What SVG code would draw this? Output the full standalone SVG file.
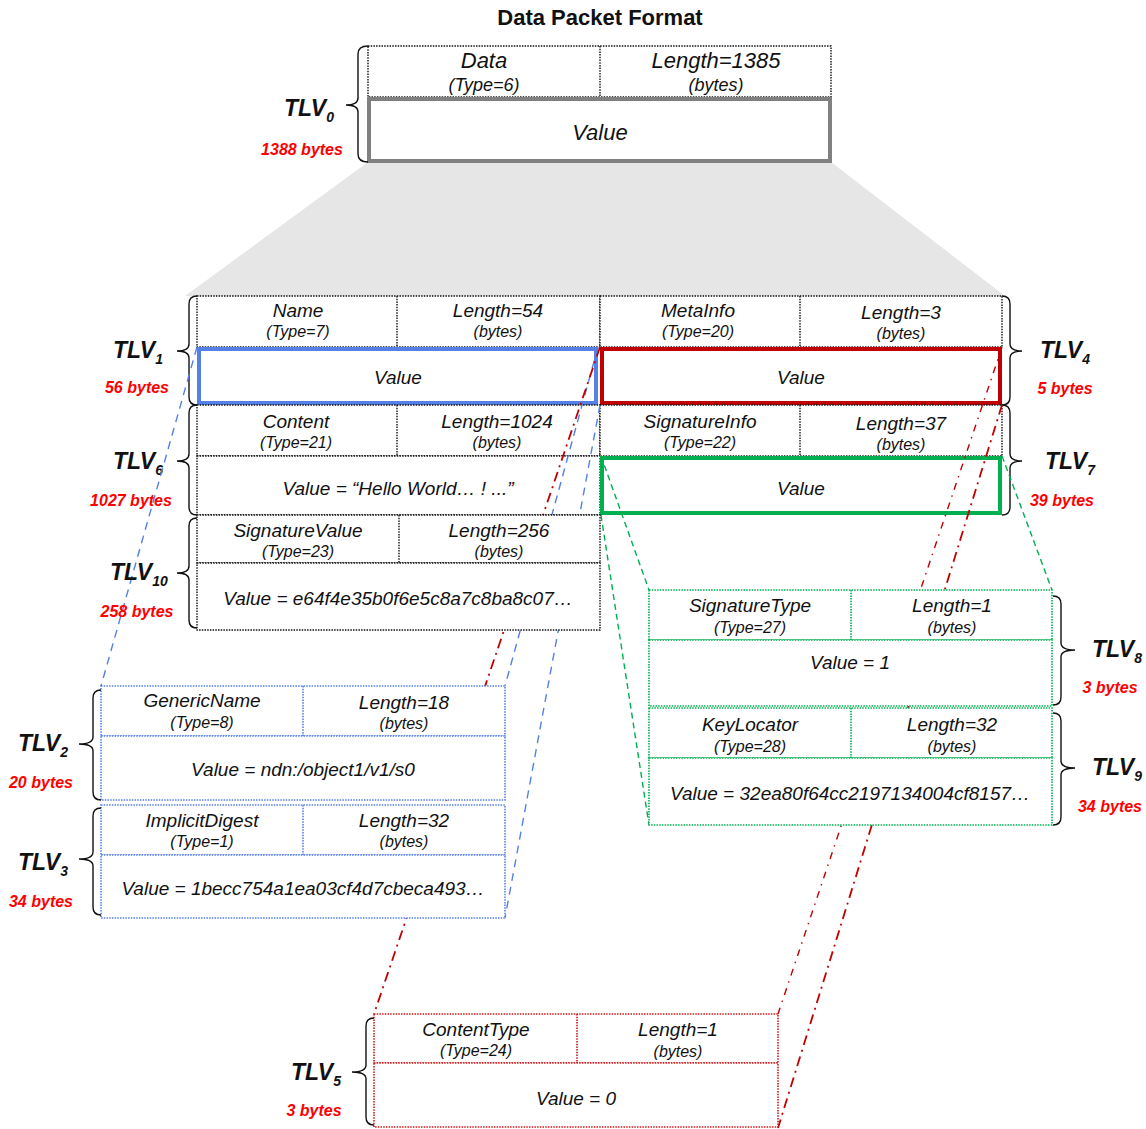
<svg xmlns="http://www.w3.org/2000/svg" width="1146" height="1129" viewBox="0 0 1146 1129">
<style>
  text { font-family: "Liberation Sans", Arial, sans-serif; font-style: italic; fill: #111; }
  .title { font-size: 22px; font-weight: bold; font-style: normal; text-anchor: middle; }
  .h1 { font-size: 19px; text-anchor: middle; }
  .h2 { font-size: 16px; text-anchor: middle; }
  .val { font-size: 19px; text-anchor: middle; }
  .big { font-size: 22px; text-anchor: middle; }
  .big2 { font-size: 18px; text-anchor: middle; }
  .tlv { font-size: 23px; font-weight: bold; }
  .sub { font-size: 14px; }
  .bytes { font-size: 16px; font-weight: bold; fill: #ff0000; text-anchor: middle; }
  .dot { fill: #fff; stroke: #111; stroke-width: 1.4; stroke-dasharray: 1.5 1.2; }
  .dotl { stroke: #111; stroke-width: 1.4; stroke-dasharray: 1.5 1.2; }
  .bdot { fill: #fff; stroke: #5580e6; stroke-width: 1.6; stroke-dasharray: 1.5 1.2; }
  .bdotl { stroke: #5580e6; stroke-width: 1.6; stroke-dasharray: 1.5 1.2; }
  .gdot { fill: #fff; stroke: #00b050; stroke-width: 1.6; stroke-dasharray: 1.5 1.2; }
  .gdotl { stroke: #00b050; stroke-width: 1.6; stroke-dasharray: 1.5 1.2; }
  .rdot { fill: #fff; stroke: #d01818; stroke-width: 1.6; stroke-dasharray: 1.5 1.2; }
  .rdotl { stroke: #d01818; stroke-width: 1.6; stroke-dasharray: 1.5 1.2; }
  .brace { fill: none; stroke: #111; stroke-width: 1.4; }
  .blue { stroke: #5580e6; stroke-width: 1.4; stroke-dasharray: 8 6; fill: none; }
  .green { stroke: #00b050; stroke-width: 1.4; stroke-dasharray: 6 4; fill: none; }
  .red { stroke: #c00000; stroke-width: 1.8; stroke-dasharray: 10 5 2 5; fill: none; }
  .red2 { stroke: #c00000; stroke-width: 1.4; stroke-dasharray: 7 6 1.5 6; fill: none; }
</style>

<text class="title" x="600" y="25">Data Packet Format</text>

<!-- grey projection -->
<polygon points="368,162 831,162 1005,296 185,296" fill="#e6e6e6"/>

<!-- TLV0 -->
<g id="tlv0">
  <rect class="dot" x="368" y="46" width="463" height="51"/>
  <line class="dotl" x1="600" y1="46" x2="600" y2="97"/>
  <text class="big" x="484" y="68">Data</text>
  <text class="big2" x="484" y="91">(Type=6)</text>
  <text class="big" x="716" y="68">Length=1385</text>
  <text class="big2" x="716" y="91">(bytes)</text>
  <rect x="369" y="99" width="461" height="62" fill="#fff" stroke="#808080" stroke-width="4"/>
  <text class="big" x="600" y="140">Value</text>
  <path class="brace" d="M368,46 Q358,46 358,54 V98 Q358,105 346,105 Q358,105 358,112 V154 Q358,162 368,162"/>
  <text class="tlv" x="284" y="116">TLV<tspan class="sub" dy="6">0</tspan></text>
  <text class="bytes" x="302" y="155">1388 bytes</text>
</g>

<!-- TLV1 / TLV4 header row -->
<g id="tlv1">
  <rect class="dot" x="197" y="296" width="403" height="51"/>
  <line class="dotl" x1="397" y1="296" x2="397" y2="347"/>
  <text class="h1" x="298" y="317">Name</text>
  <text class="h2" x="298" y="337">(Type=7)</text>
  <text class="h1" x="498" y="317">Length=54</text>
  <text class="h2" x="498" y="337">(bytes)</text>
  <rect x="199" y="349" width="397" height="54" fill="#fff" stroke="#5580e6" stroke-width="4"/>
  <text class="val" x="398" y="384">Value</text>
  <path class="brace" d="M197,296 Q189,296 189,304 V344 Q189,351 177,351 Q189,351 189,358 V397 Q189,405 197,405"/>
  <text class="tlv" x="113" y="358">TLV<tspan class="sub" dy="6">1</tspan></text>
  <text class="bytes" x="137" y="393">56 bytes</text>
</g>

<g id="tlv4">
  <rect class="dot" x="600" y="296" width="402" height="51"/>
  <line class="dotl" x1="800" y1="296" x2="800" y2="347"/>
  <text class="h1" x="698" y="317">MetaInfo</text>
  <text class="h2" x="698" y="337">(Type=20)</text>
  <text class="h1" x="901" y="319">Length=3</text>
  <text class="h2" x="901" y="339">(bytes)</text>
  <rect x="602" y="349" width="398" height="54" fill="#fff" stroke="#c00000" stroke-width="4"/>
  <text class="val" x="801" y="384">Value</text>
  <path class="brace" d="M1002,296 Q1010,296 1010,304 V344 Q1010,351 1022,351 Q1010,351 1010,358 V397 Q1010,405 1002,405"/>
  <text class="tlv" x="1040" y="358">TLV<tspan class="sub" dy="6">4</tspan></text>
  <text class="bytes" x="1065" y="394">5 bytes</text>
</g>

<g id="tlv6">
  <rect class="dot" x="197" y="405" width="403" height="51"/>
  <line class="dotl" x1="397" y1="405" x2="397" y2="456"/>
  <text class="h1" x="296" y="428">Content</text>
  <text class="h2" x="296" y="448">(Type=21)</text>
  <text class="h1" x="497" y="428">Length=1024</text>
  <text class="h2" x="497" y="448">(bytes)</text>
  <rect class="dot" x="197" y="456" width="403" height="59"/>
  <text class="val" x="398" y="495">Value = “Hello World… ! ...”</text>
  <path class="brace" d="M197,405 Q189,405 189,413 V454 Q189,461 177,461 Q189,461 189,468 V507 Q189,515 197,515"/>
  <text class="tlv" x="113" y="469">TLV<tspan class="sub" dy="6">6</tspan></text>
  <text class="bytes" x="131" y="506">1027 bytes</text>
</g>

<g id="tlv7">
  <rect class="dot" x="600" y="405" width="402" height="51"/>
  <line class="dotl" x1="800" y1="405" x2="800" y2="456"/>
  <text class="h1" x="700" y="428">SignatureInfo</text>
  <text class="h2" x="700" y="448">(Type=22)</text>
  <text class="h1" x="901" y="430">Length=37</text>
  <text class="h2" x="901" y="450">(bytes)</text>
  <rect x="602" y="458" width="398" height="55" fill="#fff" stroke="#00b050" stroke-width="4"/>
  <text class="val" x="801" y="495">Value</text>
  <path class="brace" d="M1002,405 Q1010,405 1010,413 V454 Q1010,461 1022,461 Q1010,461 1010,468 V507 Q1010,515 1002,515"/>
  <text class="tlv" x="1045" y="469">TLV<tspan class="sub" dy="6">7</tspan></text>
  <text class="bytes" x="1062" y="506">39 bytes</text>
</g>

<!-- connectors -->
<g id="connectors">
  <line class="blue" x1="197" y1="347" x2="101" y2="686"/>
  <line class="blue" x1="598" y1="347" x2="505" y2="686"/>
  <line class="blue" x1="600" y1="405" x2="505" y2="918"/>
  <line class="green" x1="601" y1="456" x2="649" y2="590"/>
  <line class="green" x1="1002" y1="456" x2="1052" y2="590"/>
  <line class="green" x1="601" y1="515" x2="649" y2="825"/>
  <line class="red" x1="600" y1="347" x2="374" y2="1014"/>
  <line class="red2" x1="1002" y1="347" x2="778" y2="1014"/>
  <line class="red" x1="1002" y1="405" x2="778" y2="1128"/>
</g>

<g id="tlv10">
  <rect class="dot" x="197" y="515" width="403" height="48"/>
  <line class="dotl" x1="399" y1="515" x2="399" y2="563"/>
  <text class="h1" x="298" y="537">SignatureValue</text>
  <text class="h2" x="298" y="557">(Type=23)</text>
  <text class="h1" x="499" y="537">Length=256</text>
  <text class="h2" x="499" y="557">(bytes)</text>
  <rect class="dot" x="197" y="563" width="403" height="67"/>
  <text class="val" x="398" y="605">Value = e64f4e35b0f6e5c8a7c8ba8c07…</text>
  <path class="brace" d="M197,518 Q189,518 189,526 V566 Q189,573 177,573 Q189,573 189,580 V620 Q189,628 197,628"/>
  <text class="tlv" x="110" y="580">TLV<tspan class="sub" dy="6">10</tspan></text>
  <text class="bytes" x="137" y="617">258 bytes</text>
</g>

<g id="tlv2">
  <rect class="bdot" x="101" y="686" width="404" height="50"/>
  <line class="bdotl" x1="303" y1="686" x2="303" y2="736"/>
  <text class="h1" x="202" y="707">GenericName</text>
  <text class="h2" x="202" y="728">(Type=8)</text>
  <text class="h1" x="404" y="709">Length=18</text>
  <text class="h2" x="404" y="729">(bytes)</text>
  <rect class="bdot" x="101" y="736" width="404" height="64"/>
  <text class="val" x="303" y="776">Value = ndn:/object1/v1/s0</text>
  <path class="brace" d="M101,690 Q93,690 93,698 V737 Q93,744 79,744 Q93,744 93,751 V792 Q93,800 101,800"/>
  <text class="tlv" x="18" y="751">TLV<tspan class="sub" dy="6">2</tspan></text>
  <text class="bytes" x="41" y="788">20 bytes</text>
</g>

<g id="tlv3">
  <rect class="bdot" x="101" y="805" width="404" height="50"/>
  <line class="bdotl" x1="303" y1="805" x2="303" y2="855"/>
  <text class="h1" x="202" y="827">ImplicitDigest</text>
  <text class="h2" x="202" y="847">(Type=1)</text>
  <text class="h1" x="404" y="827">Length=32</text>
  <text class="h2" x="404" y="847">(bytes)</text>
  <rect class="bdot" x="101" y="855" width="404" height="63"/>
  <text class="val" x="303" y="895">Value = 1becc754a1ea03cf4d7cbeca493…</text>
  <path class="brace" d="M101,808 Q93,808 93,816 V852 Q93,859 79,859 Q93,859 93,866 V907 Q93,915 101,915"/>
  <text class="tlv" x="18" y="870">TLV<tspan class="sub" dy="6">3</tspan></text>
  <text class="bytes" x="41" y="907">34 bytes</text>
</g>

<g id="tlv8">
  <rect class="gdot" x="649" y="590" width="403" height="50"/>
  <line class="gdotl" x1="851" y1="590" x2="851" y2="640"/>
  <text class="h1" x="750" y="612">SignatureType</text>
  <text class="h2" x="750" y="633">(Type=27)</text>
  <text class="h1" x="952" y="612">Length=1</text>
  <text class="h2" x="952" y="633">(bytes)</text>
  <rect class="gdot" x="649" y="640" width="403" height="66"/>
  <text class="val" x="850" y="669">Value = 1</text>
  <path class="brace" d="M1053,596 Q1061,596 1061,604 V643 Q1061,650 1075,650 Q1061,650 1061,657 V697 Q1061,705 1053,705"/>
  <text class="tlv" x="1092" y="657">TLV<tspan class="sub" dy="6">8</tspan></text>
  <text class="bytes" x="1110" y="693">3 bytes</text>
</g>

<g id="tlv9">
  <rect class="gdot" x="649" y="708" width="403" height="50"/>
  <line class="gdotl" x1="851" y1="708" x2="851" y2="758"/>
  <text class="h1" x="750" y="731">KeyLocator</text>
  <text class="h2" x="750" y="752">(Type=28)</text>
  <text class="h1" x="952" y="731">Length=32</text>
  <text class="h2" x="952" y="752">(bytes)</text>
  <rect class="gdot" x="649" y="758" width="403" height="67"/>
  <text class="val" x="850" y="800">Value = 32ea80f64cc2197134004cf8157…</text>
  <path class="brace" d="M1053,713 Q1061,713 1061,721 V761 Q1061,768 1075,768 Q1061,768 1061,775 V817 Q1061,825 1053,825"/>
  <text class="tlv" x="1092" y="775">TLV<tspan class="sub" dy="6">9</tspan></text>
  <text class="bytes" x="1110" y="812">34 bytes</text>
</g>

<g id="tlv5">
  <rect class="rdot" x="374" y="1014" width="404" height="49"/>
  <line class="rdotl" x1="577" y1="1014" x2="577" y2="1063"/>
  <text class="h1" x="476" y="1036">ContentType</text>
  <text class="h2" x="476" y="1056">(Type=24)</text>
  <text class="h1" x="678" y="1036">Length=1</text>
  <text class="h2" x="678" y="1057">(bytes)</text>
  <rect class="rdot" x="374" y="1063" width="404" height="64"/>
  <text class="val" x="576" y="1105">Value = 0</text>
  <path class="brace" d="M374,1018 Q366,1018 366,1026 V1065 Q366,1072 352,1072 Q366,1072 366,1079 V1117 Q366,1125 374,1125"/>
  <text class="tlv" x="291" y="1080">TLV<tspan class="sub" dy="6">5</tspan></text>
  <text class="bytes" x="314" y="1116">3 bytes</text>
</g>
</svg>
